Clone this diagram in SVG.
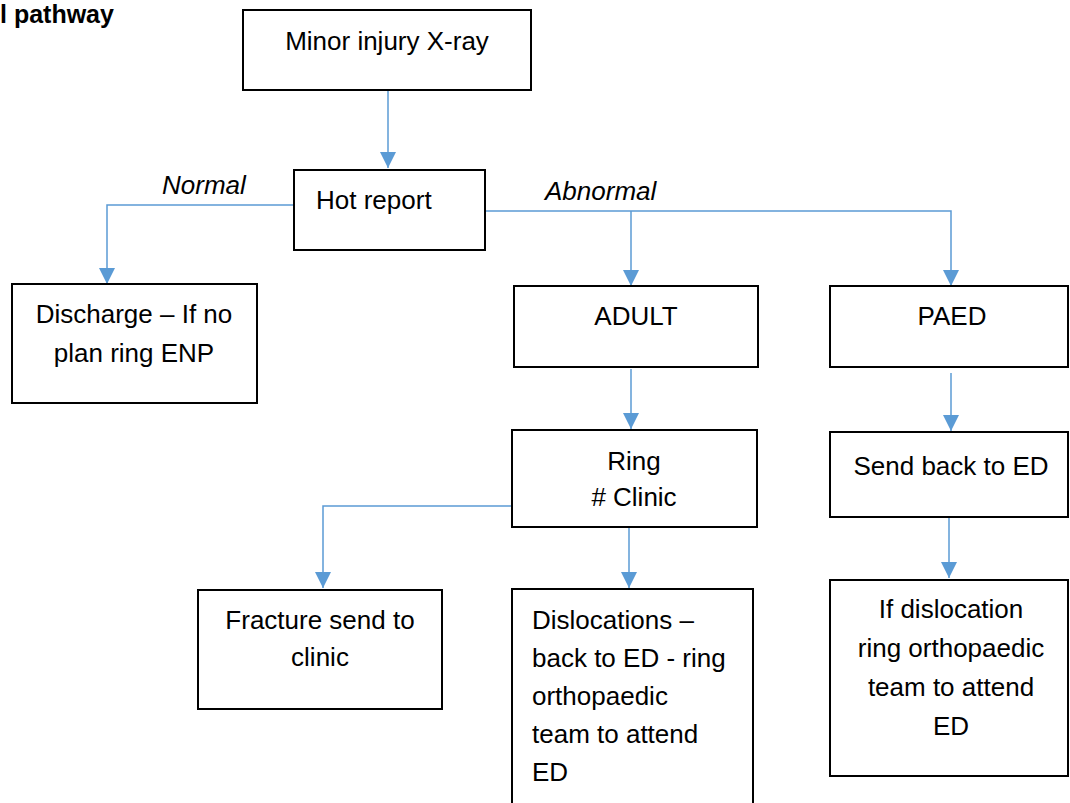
<svg xmlns="http://www.w3.org/2000/svg" width="1070" height="803" viewBox="0 0 1070 803">
<style>
.box{fill:#fff;stroke:#000;stroke-width:2}
.t{font-family:"Liberation Sans",Arial,sans-serif;font-size:26px;fill:#000}
.c{text-anchor:middle}
.i{font-style:italic}
.con{fill:none;stroke:#5B9BD5;stroke-width:1.5}
</style>
<defs>
<marker id="ah" markerUnits="userSpaceOnUse" markerWidth="16" markerHeight="16" viewBox="0 0 16 16" refX="16" refY="8" orient="auto">
<path d="M0,0 L16,8 L0,16 z" fill="#5B9BD5"/>
</marker>
</defs>
<rect width="1070" height="803" fill="#fff"/>
<text x="0" y="23" style="font-family:'Liberation Sans',Arial,sans-serif;font-size:25px;font-weight:bold">l pathway</text>
<g id="connectors">
<path class="con" d="M388,90 V168" marker-end="url(#ah)"/>
<path class="con" d="M294,205 H107 V284" marker-end="url(#ah)"/>
<path class="con" d="M485,211 H951 V286" marker-end="url(#ah)"/>
<path class="con" d="M631,211 V286" marker-end="url(#ah)"/>
<path class="con" d="M631,369 V429" marker-end="url(#ah)"/>
<path class="con" d="M951,373 V431" marker-end="url(#ah)"/>
<path class="con" d="M512,506 H323 V588" marker-end="url(#ah)"/>
<path class="con" d="M629,527 V588" marker-end="url(#ah)"/>
<path class="con" d="M949,517 V578" marker-end="url(#ah)"/>
<text class="t i" x="162" y="194">Normal</text>
<text class="t i" x="545" y="200">Abnormal</text>
</g>
<g id="n-xray">
<rect class="box" x="243" y="10" width="288" height="80"/>
<text class="t c" x="387" y="50">Minor injury X-ray</text>
</g>
<g id="n-hot">
<rect class="box" x="294" y="170" width="191" height="80"/>
<text class="t" x="316" y="209">Hot report</text>
</g>
<g id="n-discharge">
<rect class="box" x="12" y="284" width="245" height="119"/>
<text class="t c" x="134" y="323">Discharge – If no</text>
<text class="t c" x="134" y="362">plan ring ENP</text>
</g>
<g id="n-adult">
<rect class="box" x="514" y="286" width="244" height="81"/>
<text class="t c" x="636" y="325">ADULT</text>
</g>
<g id="n-paed">
<rect class="box" x="830" y="286" width="238" height="81"/>
<text class="t c" x="952" y="325">PAED</text>
</g>
<g id="n-ring">
<rect class="box" x="512" y="430" width="245" height="97"/>
<text class="t c" x="634" y="470">Ring</text>
<text class="t c" x="634" y="506"># Clinic</text>
</g>
<g id="n-sendback">
<rect class="box" x="830" y="432" width="238" height="85"/>
<text class="t c" x="951" y="475">Send back to ED</text>
</g>
<g id="n-fracture">
<rect class="box" x="198" y="590" width="244" height="119"/>
<text class="t c" x="320" y="629">Fracture send to</text>
<text class="t c" x="320" y="666">clinic</text>
</g>
<g id="n-dislocations">
<rect class="box" x="512" y="589" width="241" height="220"/>
<text class="t" x="532" y="629">Dislocations –</text>
<text class="t" x="532" y="667">back to ED - ring</text>
<text class="t" x="532" y="705">orthopaedic</text>
<text class="t" x="532" y="743">team to attend</text>
<text class="t" x="532" y="781">ED</text>
</g>
<g id="n-ifdisloc">
<rect class="box" x="830" y="580" width="238" height="196"/>
<text class="t c" x="951" y="618">If dislocation</text>
<text class="t c" x="951" y="657">ring orthopaedic</text>
<text class="t c" x="951" y="696">team to attend</text>
<text class="t c" x="951" y="735">ED</text>
</g>
</svg>
